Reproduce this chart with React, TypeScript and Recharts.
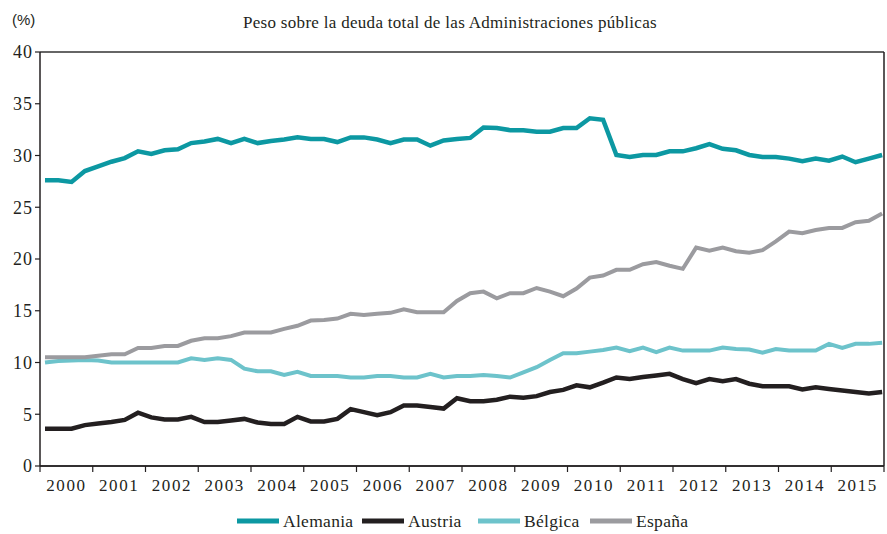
import React from "react";
import { LineChart, Line, XAxis, YAxis, CartesianGrid } from "recharts";

const YEARS = [2000, 2001, 2002, 2003, 2004, 2005, 2006, 2007, 2008, 2009, 2010, 2011, 2012, 2013, 2014, 2015];
const Y_TICKS = [0, 5, 10, 15, 20, 25, 30, 35, 40];

const ALEMANIA = [
  27.6, 27.6, 27.45, 28.5, 28.95, 29.4, 29.75, 30.4, 30.15, 30.5, 30.6, 31.2, 31.35, 31.6, 31.2, 31.6,
  31.2, 31.4, 31.55, 31.75, 31.6, 31.6, 31.3, 31.75, 31.75, 31.55, 31.2, 31.55, 31.55, 30.95, 31.45, 31.6,
  31.7, 32.7, 32.65, 32.45, 32.45, 32.3, 32.3, 32.65, 32.65, 33.6, 33.45, 30.05, 29.85, 30.05, 30.05, 30.4,
  30.4, 30.7, 31.1, 30.65, 30.5, 30.05, 29.85, 29.85, 29.7, 29.45, 29.7, 29.5, 29.9, 29.35, 29.7, 30.05,
];
const AUSTRIA = [
  3.6, 3.6, 3.6, 3.95, 4.1, 4.25, 4.45, 5.15, 4.7, 4.5, 4.5, 4.75, 4.25, 4.25, 4.4, 4.55,
  4.2, 4.05, 4.05, 4.75, 4.3, 4.3, 4.55, 5.5, 5.2, 4.9, 5.2, 5.85, 5.85, 5.7, 5.55, 6.55,
  6.25, 6.25, 6.4, 6.7, 6.6, 6.75, 7.15, 7.35, 7.8, 7.6, 8.05, 8.55, 8.4, 8.6, 8.75, 8.9,
  8.4, 8.0, 8.4, 8.2, 8.4, 7.95, 7.7, 7.7, 7.7, 7.4, 7.6, 7.45, 7.3, 7.15, 7.0, 7.15,
];
const BELGICA = [
  10.0, 10.15, 10.2, 10.25, 10.2, 10.0, 10.0, 10.0, 10.0, 10.0, 10.0, 10.4, 10.25, 10.4, 10.25, 9.4,
  9.15, 9.15, 8.8, 9.1, 8.7, 8.7, 8.7, 8.55, 8.55, 8.7, 8.7, 8.55, 8.55, 8.9, 8.55, 8.7,
  8.7, 8.8, 8.7, 8.55, 9.05, 9.55, 10.25, 10.9, 10.9, 11.05, 11.2, 11.45, 11.1, 11.45, 11.0, 11.45,
  11.15, 11.15, 11.15, 11.45, 11.3, 11.25, 10.95, 11.3, 11.15, 11.15, 11.15, 11.8, 11.4, 11.8, 11.8, 11.9,
];
const ESPANA = [
  10.5, 10.5, 10.5, 10.5, 10.65, 10.8, 10.8, 11.4, 11.4, 11.6, 11.6, 12.1, 12.35, 12.35, 12.55, 12.9,
  12.9, 12.9, 13.25, 13.55, 14.05, 14.1, 14.25, 14.7, 14.6, 14.7, 14.8, 15.15, 14.85, 14.85, 14.85, 15.95,
  16.7, 16.85, 16.2, 16.7, 16.7, 17.2, 16.85, 16.4, 17.15, 18.2, 18.4, 18.95, 18.95, 19.5, 19.7, 19.35,
  19.05, 21.1, 20.8, 21.1, 20.75, 20.6, 20.85, 21.7, 22.65, 22.5, 22.8, 23.0, 23.0, 23.55, 23.7, 24.4,
];

const SERIES = [
  { key: "alemania", name: "Alemania", color: "#0C98A2", width: 4.5, values: ALEMANIA, legendX: 237 },
  { key: "austria", name: "Austria", color: "#231F20", width: 4.5, values: AUSTRIA, legendX: 362 },
  { key: "belgica", name: "Bélgica", color: "#6DC3CB", width: 4, values: BELGICA, legendX: 478 },
  { key: "espana", name: "España", color: "#9B9B9F", width: 4, values: ESPANA, legendX: 590 },
];

const X_START = 2000.095;
const Q_STEP = 0.2519;

const data = ALEMANIA.map((_, i) => {
  const row: Record<string, number> = { t: X_START + i * Q_STEP };
  SERIES.forEach((s) => {
    row[s.key] = s.values[i];
  });
  return row;
});

const X_TICKS = [...YEARS, 2016];
const FONT = "'Liberation Serif', 'DejaVu Serif', serif";

const YearTick = (props: any) => {
  const { x, y, payload } = props;
  if (payload.value >= 2016) return null;
  return (
    <text
      x={x + 26.4}
      y={y}
      dy="0.71em"
      textAnchor="middle"
      fontFamily={FONT}
      fontSize={17}
      letterSpacing={1.6}
      fill="#231F20"
    >
      {String(payload.value)}
    </text>
  );
};

export default function App() {
  return (
    <div style={{ position: "absolute", left: 0, top: 0, width: 887, height: 534, background: "#fff" }}>
      <LineChart
        width={887}
        height={534}
        data={data}
        margin={{ top: 52, right: 0, left: 0, bottom: 0 }}
      >
        <CartesianGrid vertical={false} stroke="#333" strokeWidth={1.3} />
        <XAxis
          dataKey="t"
          type="number"
          domain={[2000, 2016]}
          ticks={X_TICKS}
          interval={0}
          height={68}
          tickSize={6}
          tickMargin={7}
          axisLine={{ stroke: "#231F20", strokeWidth: 1.5 }}
          tickLine={{ stroke: "#231F20", strokeWidth: 1.2 }}
          tick={<YearTick />}
          allowDataOverflow
        />
        <YAxis
          yAxisId="left"
          domain={[0, 40]}
          ticks={Y_TICKS}
          interval={0}
          width={40}
          tickSize={5}
          tickMargin={2}
          axisLine={{ stroke: "#231F20", strokeWidth: 1.5 }}
          tickLine={{ stroke: "#231F20", strokeWidth: 1.2 }}
          tick={{ fontFamily: FONT, fontSize: 18, fill: "#231F20", letterSpacing: 1 }}
        />
        <YAxis
          yAxisId="right"
          orientation="right"
          domain={[0, 40]}
          width={3}
          tick={false}
          tickLine={false}
          axisLine={{ stroke: "#231F20", strokeWidth: 1.5 }}
        />
        {SERIES.map((s) => (
          <Line
            key={s.key}
            yAxisId="left"
            dataKey={s.key}
            name={s.name}
            stroke={s.color}
            strokeWidth={s.width}
            dot={false}
            activeDot={false}
            type="linear"
            isAnimationActive={false}
          />
        ))}
      </LineChart>
      <svg
        width={887}
        height={534}
        style={{ position: "absolute", left: 0, top: 0, pointerEvents: "none" }}
      >
        <text x={12} y={25} fontFamily="'Liberation Sans', Arial, sans-serif" fontSize={15} fill="#231F20">
          (%)
        </text>
        <text x={450} y={28} textAnchor="middle" fontFamily={FONT} fontSize={17} letterSpacing={0.3} fill="#231F20">
          Peso sobre la deuda total de las Administraciones públicas
        </text>
        {SERIES.map((s) => (
          <g key={s.key}>
            <line x1={s.legendX} x2={s.legendX + 42} y1={521} y2={521} stroke={s.color} strokeWidth={5} />
            <text x={s.legendX + 46} y={527} fontFamily={FONT} fontSize={17.5} letterSpacing={0.3} fill="#231F20">
              {s.name}
            </text>
          </g>
        ))}
      </svg>
    </div>
  );
}
